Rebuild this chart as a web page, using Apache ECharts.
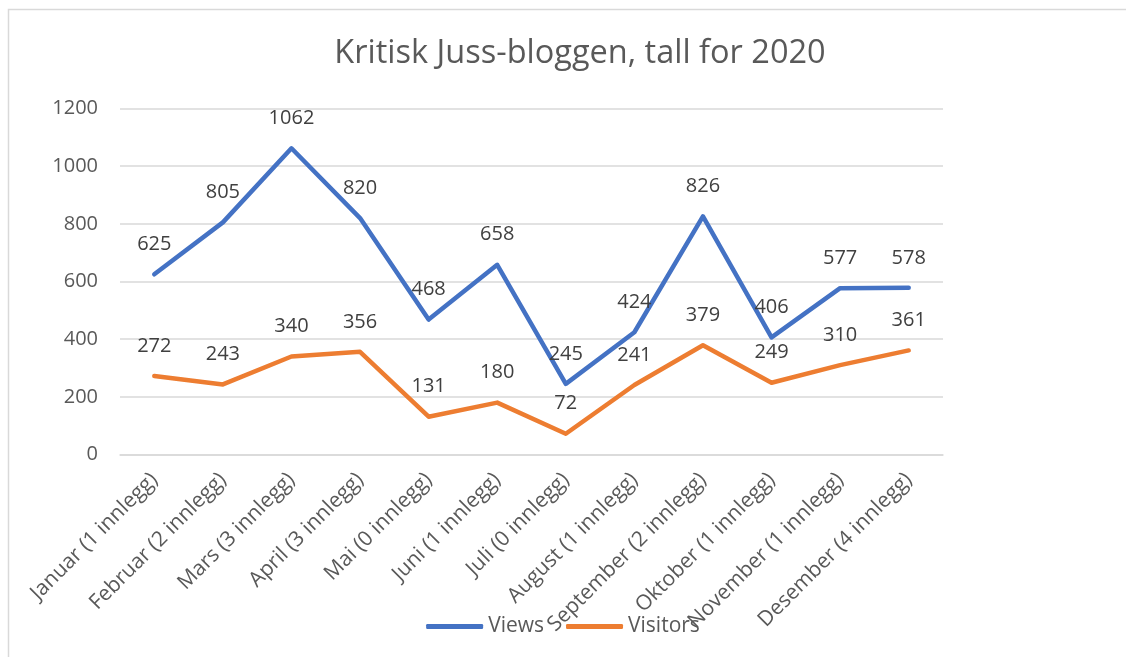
<!DOCTYPE html>
<html>
<head>
<meta charset="utf-8">
<script src="https://cdn.jsdelivr.net/npm/echarts@6/dist/echarts.min.js"></script>
<style>html,body{margin:0;padding:0;background:#fff}#c{width:1126px;height:657px}</style>
</head>
<body>
<div id="c"></div>
<script>
const categories = ["Januar (1 innlegg)","Februar (2 innlegg)","Mars (3 innlegg)","April (3 innlegg)","Mai (0 innlegg)","Juni (1 innlegg)","Juli (0 innlegg)","August (1 innlegg)","September (2 innlegg)","Oktober (1 innlegg)","November (1 innlegg)","Desember (4 innlegg)"];
const views = [625,805,1062,820,468,658,245,424,826,406,577,578];
const visitors = [272,243,340,356,131,180,72,241,379,249,310,361];
const yTicks = {min:0, max:1200, interval:200};

const FONT = 'Open Sans';
const TXT = '#595959';
const chart = echarts.init(document.getElementById('c'));
const lbl = {show:true,position:'top',distance:20,fontFamily:FONT,fontSize:20,color:'#404040'};
chart.setOption({
  animation:false,
  backgroundColor:'#fff',
  graphic:[{type:'rect',shape:{x:8.5,y:9.5,width:1200,height:700},style:{fill:'none',stroke:'#d9d9d9',lineWidth:1.5},silent:true}],
  title:{text:'Kritisk Juss-bloggen, tall for 2020',left:575,textAlign:'center',top:32,
    textStyle:{fontFamily:FONT,fontSize:32.5,fontWeight:'normal',color:TXT}},
  grid:{left:120,right:183,top:108.5,bottom:202.5,containLabel:false},
  legend:{bottom:15,left:'center',itemWidth:57,itemHeight:5,itemGap:22,icon:'roundRect',
    textStyle:{fontFamily:FONT,fontSize:21,color:TXT,padding:[0,0,0,0]},
    data:['Views','Visitors']},
  xAxis:{type:'category',data:categories,boundaryGap:true,
    axisLine:{show:true,lineStyle:{color:'#d9d9d9',width:1.5}},axisTick:{show:false},
    axisLabel:{rotate:45,interval:0,margin:22,fontFamily:FONT,fontSize:21,color:TXT}},
  yAxis:{type:'value',min:yTicks.min,max:yTicks.max,interval:yTicks.interval,
    axisLine:{show:false},axisTick:{show:false},
    splitLine:{lineStyle:{color:'#d9d9d9',width:1.5}},
    axisLabel:{margin:22,fontFamily:FONT,fontSize:20,color:TXT,formatter:v=>String(v)}},
  series:[
    {name:'Views',type:'line',data:views,showSymbol:true,symbol:'circle',symbolSize:0.01,
      lineStyle:{color:'#4472C4',width:4.5,cap:'round',join:'round'},itemStyle:{color:'#4472C4'},
      label:lbl},
    {name:'Visitors',type:'line',data:visitors,showSymbol:true,symbol:'circle',symbolSize:0.01,
      lineStyle:{color:'#ED7D31',width:4.5,cap:'round',join:'round'},itemStyle:{color:'#ED7D31'},
      label:lbl}
  ]
});
</script>
</body>
</html>
